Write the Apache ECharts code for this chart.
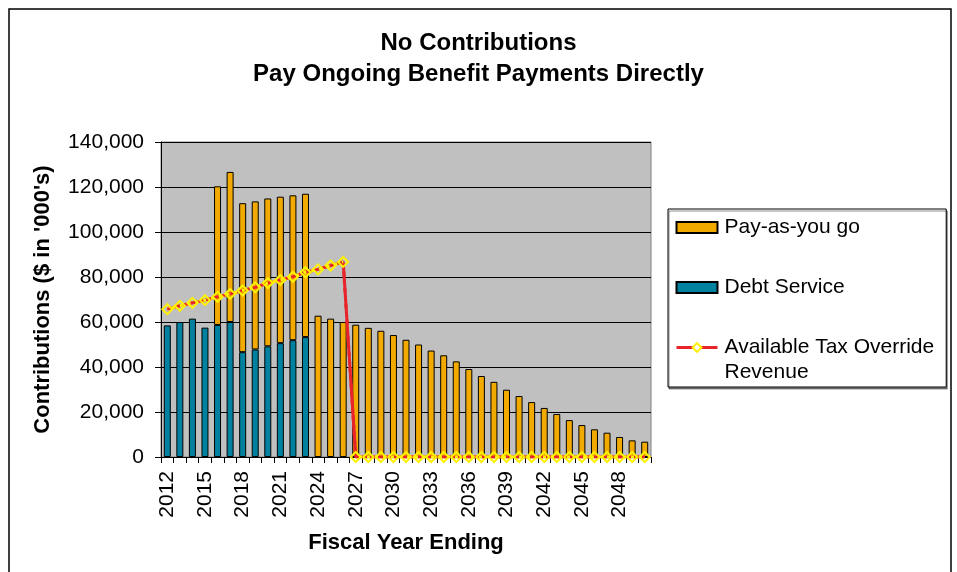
<!DOCTYPE html>
<html>
<head>
<meta charset="utf-8">
<script src="https://cdn.jsdelivr.net/npm/echarts@6/dist/echarts.min.js"></script>
<style>
html,body{margin:0;padding:0;background:#fff;}
#chart{width:957px;height:572px;}
</style>
</head>
<body>
<div id="chart"></div>
<script>
// ---- data ----
const years = ['2012','2013','2014','2015','2016','2017','2018','2019','2020','2021','2022','2023','2024','2025','2026','2027','2028','2029','2030','2031','2032','2033','2034','2035','2036','2037','2038','2039','2040','2041','2042','2043','2044','2045','2046','2047','2048','2049','2050'];
const debtService = [58500, 60000, 61500, 57500, 58700, 60000, 46600, 47800, 49200, 50600, 51900, 53300];
const payAsYouGo = [null, null, null, null, 61600, 66700, 66200, 65800, 65700, 65100, 64400, 63700,
  62800, 61500, 60000, 58800, 57400, 56100, 54200, 52100, 50000, 47300, 45200, 42500, 39100,
  36000, 33400, 29900, 27100, 24400, 21800, 19100, 16400, 14200, 12300, 10800, 8900, 7400, 6800];
const taxOverride = [65700, 67200, 68500, 69700, 71200, 72500, 74000, 75400, 77300, 78700, 80100, 82100, 83400, 85100, 86700,
  0,0,0,0,0,0,0,0,0,0,0,0,0,0,0,0,0,0,0,0,0,0,0,0];
const yTicks = {min: 0, max: 140000, step: 20000};
const names = {payg: 'Pay-as-you go', debt: 'Debt Service', tax: 'Available Tax Override Revenue'};

// segments of the override line before and after the drop (for the two-tone dash)
const dropIndex = 15;
const taxSegA = taxOverride.map((v, i) => i < dropIndex ? v : null);
const taxSegB = taxOverride.map((v, i) => i >= dropIndex ? v : null);

const FONT = '"Liberation Sans", Arial, sans-serif';
const ORANGE = '#F2AA00', TEAL = '#00819F', RED = '#E8242B', YELLOW = '#FFF200';

const chart = echarts.init(document.getElementById('chart'));
chart.setOption({
  animation: false,
  backgroundColor: '#ffffff',
  textStyle: {fontFamily: FONT},
  title: {
    text: 'No Contributions\nPay Ongoing Benefit Payments Directly',
    left: 'center', top: 28, padding: 0,
    textStyle: {fontFamily: FONT, fontSize: 24, fontWeight: 'bold', color: '#000', lineHeight: 31}
  },
  graphic: [{
    type: 'rect', x: 0, y: 0, silent: true,
    shape: {x: 9, y: 9, width: 942, height: 620},
    style: {fill: 'none', stroke: '#000', lineWidth: 1.5}
  }],
  legend: {
    orient: 'vertical', left: 668, top: 209,
    padding: [-19, 12, 2, 7],
    itemGap: -15, itemWidth: 41, itemHeight: 11,
    backgroundColor: '#fff', borderColor: '#000', borderWidth: 1,
    shadowColor: 'rgba(0,0,0,0.45)', shadowOffsetX: 1, shadowOffsetY: 2, shadowBlur: 0,
    textStyle: {fontFamily: FONT, fontSize: 21, color: '#000', lineHeight: 25, padding: [0,0,0,2]},
    formatter: function (name) {
      if (name === names.tax) return '\nAvailable Tax Override\nRevenue';
      return '\n' + name + '\n';
    },
    data: [
      {name: names.payg, icon: 'rect'},
      {name: names.debt, icon: 'rect'},
      {name: names.tax, lineStyle: {type: 'solid', width: 3}, itemStyle: {color: '#fff'}}
    ]
  },
  grid: {left: 161, top: 142, right: 306, bottom: 115, show: true, backgroundColor: '#C0C0C0', borderColor: '#808080', borderWidth: 1},
  xAxis: {
    type: 'category', data: years, boundaryGap: true,
    name: 'Fiscal Year Ending', nameLocation: 'middle', nameGap: 75,
    nameTextStyle: {fontFamily: FONT, fontSize: 22, fontWeight: 'bold', color: '#000'},
    axisLine: {lineStyle: {color: '#000', width: 1}},
    axisTick: {show: true, interval: 0, length: 6, lineStyle: {color: '#000'}},
    axisLabel: {interval: 2, rotate: 90, margin: 14, fontFamily: FONT, fontSize: 21, color: '#000'},
    splitLine: {show: false}
  },
  yAxis: {
    type: 'value', min: yTicks.min, max: yTicks.max, interval: yTicks.step,
    name: "Contributions ($ in '000's)", nameLocation: 'middle', nameGap: 107,
    nameTextStyle: {fontFamily: FONT, fontSize: 22, fontWeight: 'bold', color: '#000'},
    axisLine: {show: true, lineStyle: {color: '#000', width: 1}},
    axisTick: {show: true, length: 6, lineStyle: {color: '#000'}},
    axisLabel: {margin: 17, fontFamily: FONT, fontSize: 21, color: '#000',
      formatter: v => v.toLocaleString('en-US')},
    splitLine: {show: true, lineStyle: {color: '#000', width: 1}}
  },
  series: [
    {name: names.debt, type: 'bar', stack: 'c', data: debtService, barWidth: 7,
     itemStyle: {color: TEAL, borderColor: '#000', borderWidth: 1}},
    {name: names.payg, type: 'bar', stack: 'c', data: payAsYouGo, barWidth: 7,
     itemStyle: {color: ORANGE, borderColor: '#000', borderWidth: 1}},
    {type: 'line', data: taxOverride, symbol: 'none', silent: true, z: 3,
     lineStyle: {color: RED, width: 3}},
    {type: 'line', data: taxSegA, symbol: 'none', silent: true, z: 4, connectNulls: false,
     lineStyle: {color: YELLOW, width: 3}},
    {type: 'line', data: taxSegB, symbol: 'none', silent: true, z: 4, connectNulls: false,
     lineStyle: {color: YELLOW, width: 3}},
    {name: names.tax, type: 'line', data: taxOverride, z: 5,
     symbol: 'diamond', symbolSize: 10, showSymbol: true, showAllSymbol: true,
     lineStyle: {color: RED, width: 3, type: [5, 3]},
     itemStyle: {color: 'rgba(0,0,0,0)', borderColor: YELLOW, borderWidth: 2}}
  ]
});
</script>
</body>
</html>
